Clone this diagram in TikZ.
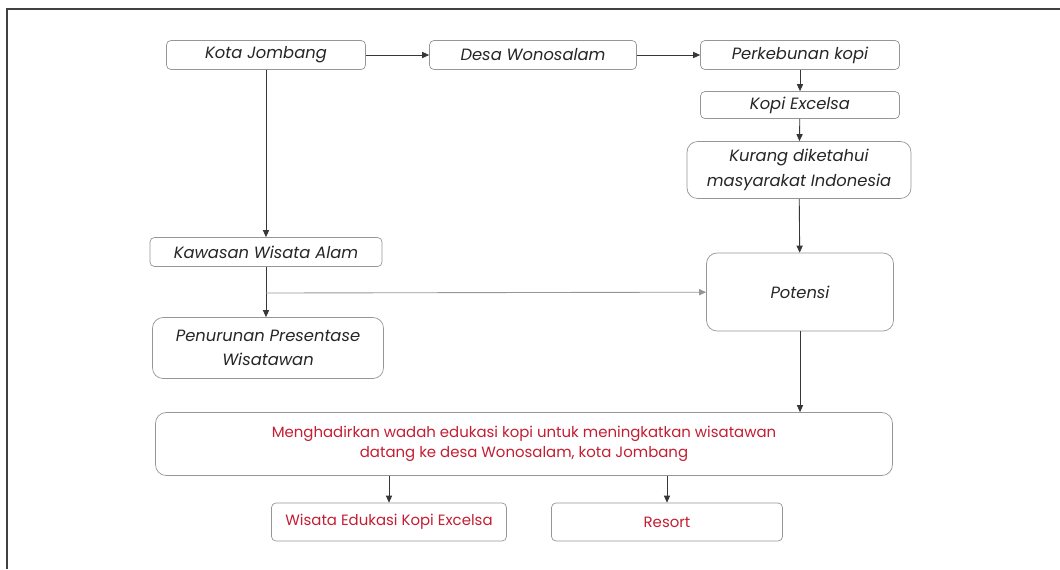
\documentclass[tikz,border=0pt]{standalone}
\usepackage{fontspec}
\setmainfont{Poppins}
\usetikzlibrary{positioning,arrows.meta}
\definecolor{boxline}{RGB}{150,150,150}
\definecolor{arrowline}{RGB}{55,55,55}
\definecolor{redtext}{RGB}{195,30,50}

\begin{document}
\begin{tikzpicture}[x=0.02cm,y=-0.02cm,
    box node/.style={draw=boxline,rounded corners=2.5pt,fill=white,inner sep=1pt,
      font=\fontsize{9.3}{14}\selectfont\itshape,text=black!85,align=center},
    big node/.style={box node,rounded corners=6pt},
    red node/.style={box node,font=\fontsize{8.5}{11.3}\selectfont,text=redtext},
    flow/.style={draw=arrowline,line width=0.5pt,-{Triangle[length=4pt,width=3.5pt]}}]
    \useasboundingbox (0,0) rectangle (1060,569);
    \draw[black!75,line width=1pt] (7,569) -- (7,9) -- (1060,9);

    \node[box node,minimum width=3.98cm,minimum height=0.58cm] (kota) at (266,55) {Kota Jombang};
    \node[box node,minimum width=4.14cm,minimum height=0.58cm] (desa) at (533,55) {Desa Wonosalam};
    \node[box node,minimum width=3.98cm,minimum height=0.58cm] (kebun) at (800,55) {Perkebunan kopi};
    \node[box node,minimum width=3.98cm,minimum height=0.54cm] (excelsa) at (800,105) {Kopi Excelsa};
    \node[big node,minimum width=4.48cm,minimum height=1.14cm] (kurang) at (799,170) {Kurang diketahui\\masyarakat Indonesia};
    \node[box node,minimum width=4.64cm,minimum height=0.58cm] (kawasan) at (266,252) {Kawasan Wisata Alam};
    \node[big node,minimum width=4.62cm,minimum height=1.22cm] (turun) at (268,348) {Penurunan Presentase\\Wisatawan};
    \node[big node,minimum width=3.74cm,minimum height=1.56cm] (potensi) at (800,292) {Potensi};
    \node[big node,red node,rounded corners=6pt,minimum width=14.74cm,minimum height=1.26cm] (wadah) at (524,444)
      {Menghadirkan wadah edukasi kopi untuk meningkatkan wisatawan\\datang ke desa Wonosalam, kota Jombang};
    \node[red node,minimum width=4.7cm,minimum height=0.76cm] (edukasi) at (389,522) {Wisata Edukasi Kopi Excelsa};
    \node[red node,minimum width=4.62cm,minimum height=0.76cm] (resort) at (667,522) {Resort};
    \coordinate (cabang) at (266,293);

    \draw[flow] (kota) -- (desa);
    \draw[flow] (desa) -- (kebun);
    \draw[flow] (kebun) -- (excelsa);
    \draw[flow] (excelsa) -- (kurang);
    \draw[flow] (kurang) -- (potensi);
    \draw[flow] (kota) -- (kawasan);
    \draw[flow] (kawasan.south) -- (kawasan.south |- turun.north);
    \draw[flow,draw=boxline] (cabang) -- (potensi);
    \draw[flow] (potensi.south) -- (potensi.south |- wadah.north);
    \draw[flow] (edukasi.north |- wadah.south) -- (edukasi);
    \draw[flow] (resort.north |- wadah.south) -- (resort);
\end{tikzpicture}
\end{document}
